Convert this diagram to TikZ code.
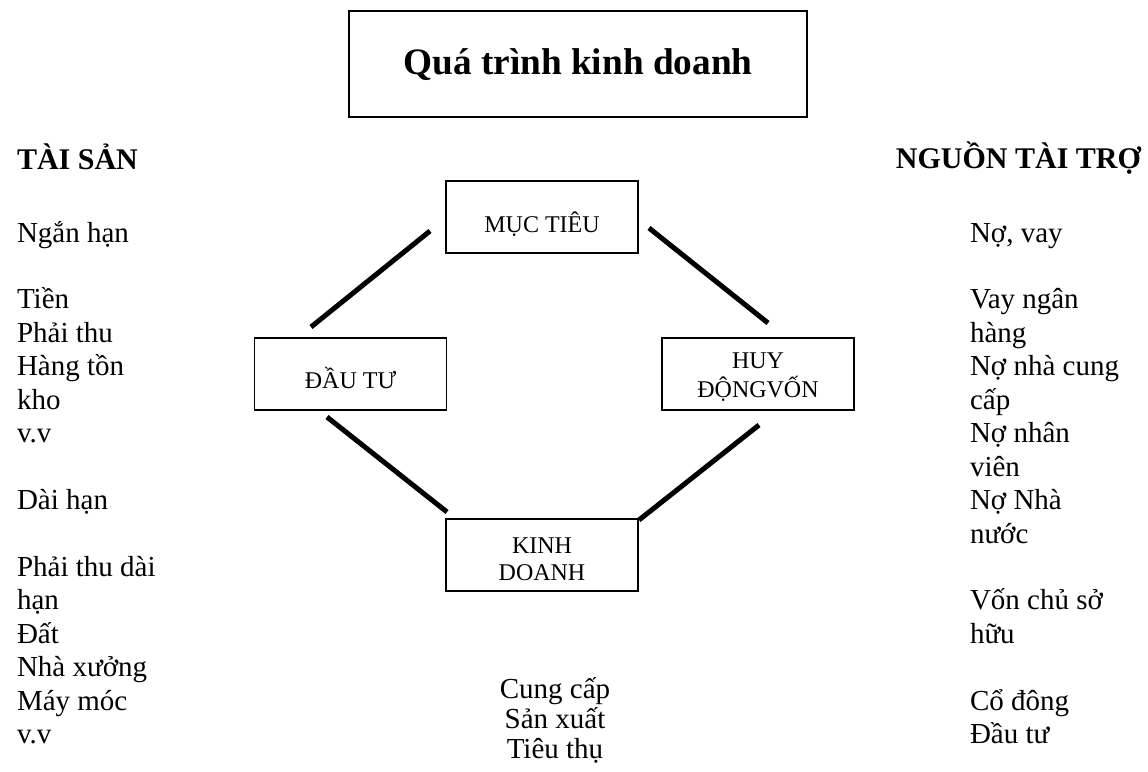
\documentclass[tikz,border=0pt]{standalone}
\usepackage{fontspec}
\setmainfont{Liberation Serif}
% stacked lines inside a box, baseline on the last line
\newcommand{\boxlines}[1]{\begin{tabular}[b]{@{}c@{}}#1\end{tabular}}
\begin{document}
\begin{tikzpicture}[x=1pt,y=-1pt,
  every node/.style={inner sep=0pt, outer sep=0pt},
  body/.style={font=\fontsize{29}{33.4}\selectfont, anchor=base west},
  mid/.style={font=\fontsize{29}{33.4}\selectfont, anchor=base},
  head/.style={font=\bfseries\fontsize{30}{34}\selectfont},
  stagebox/.style={draw, line width=1.8pt, minimum width=192pt, minimum height=72pt,
    font=\fontsize{24}{26.5}\selectfont, text depth=0pt},
  link/.style={line width=5pt}]
\useasboundingbox (0,0) rectangle (1148,771);

% title
\node[draw, line width=2.4pt, minimum width=458pt, minimum height=106pt,
  font=\bfseries\fontsize{37.3}{43}\selectfont, text height=20pt, text depth=0pt]
  (title) at (578,64) {Quá trình kinh doanh};

% column headings
\node[head, anchor=base west] (assets) at (17,169) {TÀI SẢN};
\node[head, anchor=base east] (funding) at (1141,168) {NGUỒN TÀI TRỢ};

% assets column
\foreach \txt/\n [count=\i] in {Ngắn hạn/0, Tiền/2, Phải thu/3, Hàng tồn/4, kho/5, v.v/6,
    Dài hạn/8, Phải thu dài/10, hạn/11, Đất/12, Nhà xưởng/13, Máy móc/14, v.v/15}
  \node[body] (asset\i) at (17,242+33.45*\n) {\txt};

% funding column
\foreach \txt/\n [count=\i] in {{Nợ, vay}/0, Vay ngân/2, hàng/3, Nợ nhà cung/4, cấp/5,
    Nợ nhân/6, viên/7, Nợ Nhà/8, nước/9, Vốn chủ sở/11, hữu/12, Cổ đông/14, Đầu tư/15}
  \node[body] (fund\i) at (970,242+33.45*\n) {\txt};

% the four stages
\node[stagebox, text height=30pt] (goal) at (542,217) {\boxlines{MỤC TIÊU}};
\node[stagebox, text height=28pt] (invest) at (350.5,374) {\boxlines{ĐẦU TƯ}};
\node[stagebox, text height=47.4pt] (raise) at (758,374) {\boxlines{HUY\\ĐỘNGVỐN}};
\node[stagebox, text height=50pt] (trade) at (542,555) {\boxlines{KINH\\DOANH}};

% free-standing links between the stages
\coordinate (tl-a) at (430,231);  \coordinate (tl-b) at (311,327);
\coordinate (tr-a) at (649,228);  \coordinate (tr-b) at (768,323);
\coordinate (bl-a) at (327,417);  \coordinate (bl-b) at (447,512);
\coordinate (br-a) at (759,425);  \coordinate (br-b) at (639,520);
\draw[link] (tl-a) -- (tl-b);
\draw[link] (tr-a) -- (tr-b);
\draw[link] (bl-a) -- (bl-b);
\draw[link] (br-a) -- (br-b);

% activities under the business stage
\node[mid] (supply) at (555,698) {Cung cấp};
\node[mid] (produce) at (555,728) {Sản xuất};
\node[mid] (consume) at (555,758) {Tiêu thụ};
\end{tikzpicture}
\end{document}
